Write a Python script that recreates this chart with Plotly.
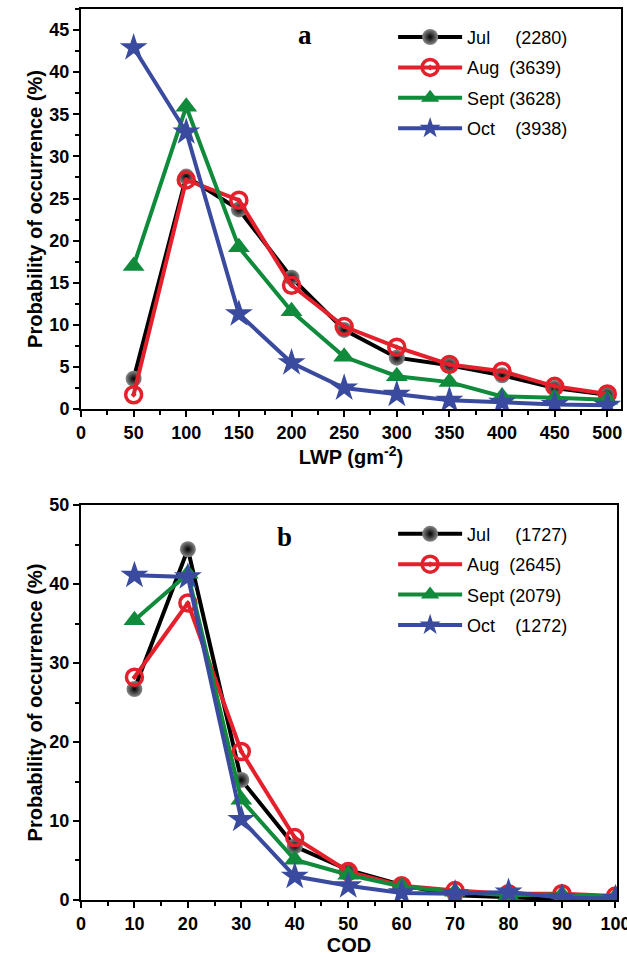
import plotly.graph_objects as go

# ---------------- data ----------------
months = ["Jul", "Aug", "Sept", "Oct"]
counts_a = ["(2280)", "(3639)", "(3628)", "(3938)"]
counts_b = ["(1727)", "(2645)", "(2079)", "(1272)"]

lwp = [50, 100, 150, 200, 250, 300, 350, 400, 450, 500]
a_jul = [3.6, 27.6, 23.7, 15.6, 9.4, 6.1, 5.2, 4.0, 2.5, 1.7]
a_aug = [1.7, 27.2, 24.8, 14.7, 9.8, 7.35, 5.3, 4.5, 2.7, 1.8]
a_sep = [17.0, 35.9, 19.2, 11.6, 6.2, 3.9, 3.2, 1.5, 1.35, 1.1]
a_oct = [42.9, 32.9, 11.3, 5.5, 2.5, 1.75, 1.05, 0.8, 0.55, 0.45]

cod = [10, 20, 30, 40, 50, 60, 70, 80, 90, 100]
b_jul = [26.7, 44.4, 15.2, 6.8, 3.8, 1.9, 0.6, 0.3, 0.1, 0.1]
b_aug = [28.2, 37.6, 18.8, 7.9, 3.6, 1.8, 1.2, 0.8, 0.8, 0.5]
b_sep = [35.4, 41.3, 12.7, 5.1, 3.2, 1.7, 1.05, 0.6, 0.7, 0.4]
b_oct = [41.1, 40.9, 10.2, 3.0, 1.8, 0.9, 0.8, 1.0, 0.3, 0.2]

# ---------------- styles ----------------
colors = ["#000000", "#e3202b", "#108a3b", "#3a4b9f"]
markers = [
    dict(symbol="circle", size=16, color="#8a8a8a", gradient=dict(type="radial", color="#000000"),
         line=dict(width=0)),
    dict(symbol="circle-open-dot", size=16, color=colors[1], line=dict(width=3.5, color=colors[1])),
    dict(symbol="triangle-up", size=19, color=colors[2], line=dict(width=0)),
    dict(symbol="star", size=21, color=colors[3], line=dict(width=0)),
]
pad = {"Jul": "\u00a0" * 5, "Aug": "\u00a0" * 2, "Sept": "\u00a0", "Oct": "\u00a0" * 4}

FONT = "Liberation Sans, Arial, sans-serif"

fig = go.Figure()

series_a = [a_jul, a_aug, a_sep, a_oct]
series_b = [b_jul, b_aug, b_sep, b_oct]

for i, m in enumerate(months):
    fig.add_trace(go.Scatter(
        x=lwp, y=series_a[i], mode="lines+markers",
        name=m + pad[m] + counts_a[i],
        line=dict(color=colors[i], width=4),
        marker=markers[i], xaxis="x", yaxis="y",
        legend="legend", legendgroup="a" + m,
    ))
for i, m in enumerate(months):
    fig.add_trace(go.Scatter(
        x=cod, y=series_b[i], mode="lines+markers",
        name=m + pad[m] + counts_b[i],
        line=dict(color=colors[i], width=4),
        marker=markers[i], xaxis="x2", yaxis="y2",
        legend="legend2", legendgroup="b" + m,
    ))

tickfont = dict(family=FONT, size=18, color="black", weight="bold")
titlefont = dict(family=FONT, size=20, color="black", weight="bold")

common_axis = dict(
    showline=True, linecolor="black", linewidth=2, mirror=True,
    ticks="outside", ticklen=6, tickwidth=2, tickcolor="black",
    showgrid=False, zeroline=False, tickfont=tickfont,
    ticklabeloverflow="allow", automargin=False,
)

legend_common = dict(
    font=dict(family=FONT, size=18, color="black"),
    bgcolor="rgba(0,0,0,0)", borderwidth=0,
    xanchor="left", yanchor="top", tracegroupgap=4,
    itemwidth=64,
)

fig.update_layout(
    width=627, height=957,
    margin=dict(l=81, r=6, t=9, b=57),
    paper_bgcolor="white", plot_bgcolor="white",
    showlegend=True,
    xaxis=dict(common_axis, domain=[0, 1], range=[0, 513], dtick=50, tick0=0,
               minor=dict(dtick=25, ticks="outside", ticklen=4, tickwidth=2, tickcolor="black"),
               anchor="y",
               title=dict(text="LWP (gm<sup>-2</sup>)", font=titlefont, standoff=0)),
    yaxis=dict(common_axis, domain=[0.551, 1.0], range=[0, 47.5], dtick=5, tick0=0,
               minor=dict(dtick=2.5, ticks="outside", ticklen=4, tickwidth=2, tickcolor="black"),
               anchor="x",
               title=dict(text="Probability of occurrence (%)", font=titlefont, standoff=1)),
    xaxis2=dict(common_axis, domain=[0, 0.9926], range=[0, 100.3], dtick=10, tick0=0,
                minor=dict(dtick=5, ticks="outside", ticklen=4, tickwidth=2, tickcolor="black"),
                anchor="y2",
                title=dict(text="COD", font=titlefont, standoff=2)),
    yaxis2=dict(common_axis, domain=[0, 0.4433], range=[0, 50], dtick=10, tick0=0,
                minor=dict(dtick=5, ticks="outside", ticklen=4, tickwidth=2, tickcolor="black"),
                anchor="x2",
                title=dict(text="Probability of occurrence (%)", font=titlefont, standoff=1)),
    legend=dict(legend_common, x=0.578, y=0.989),
    legend2=dict(legend_common, x=0.578, y=0.4314),
    annotations=[
        dict(text="<b>a</b>", xref="x domain", yref="y domain", x=0.415, y=0.935,
             xanchor="center", yanchor="middle",
             showarrow=False, font=dict(family="Liberation Serif, Times New Roman, serif", size=27, color="black")),
        dict(text="<b>b</b>", xref="x2 domain", yref="y2 domain", x=0.38, y=0.92,
             xanchor="center", yanchor="middle",
             showarrow=False, font=dict(family="Liberation Serif, Times New Roman, serif", size=27, color="black")),
    ],
)

fig.write_html("out.html")
